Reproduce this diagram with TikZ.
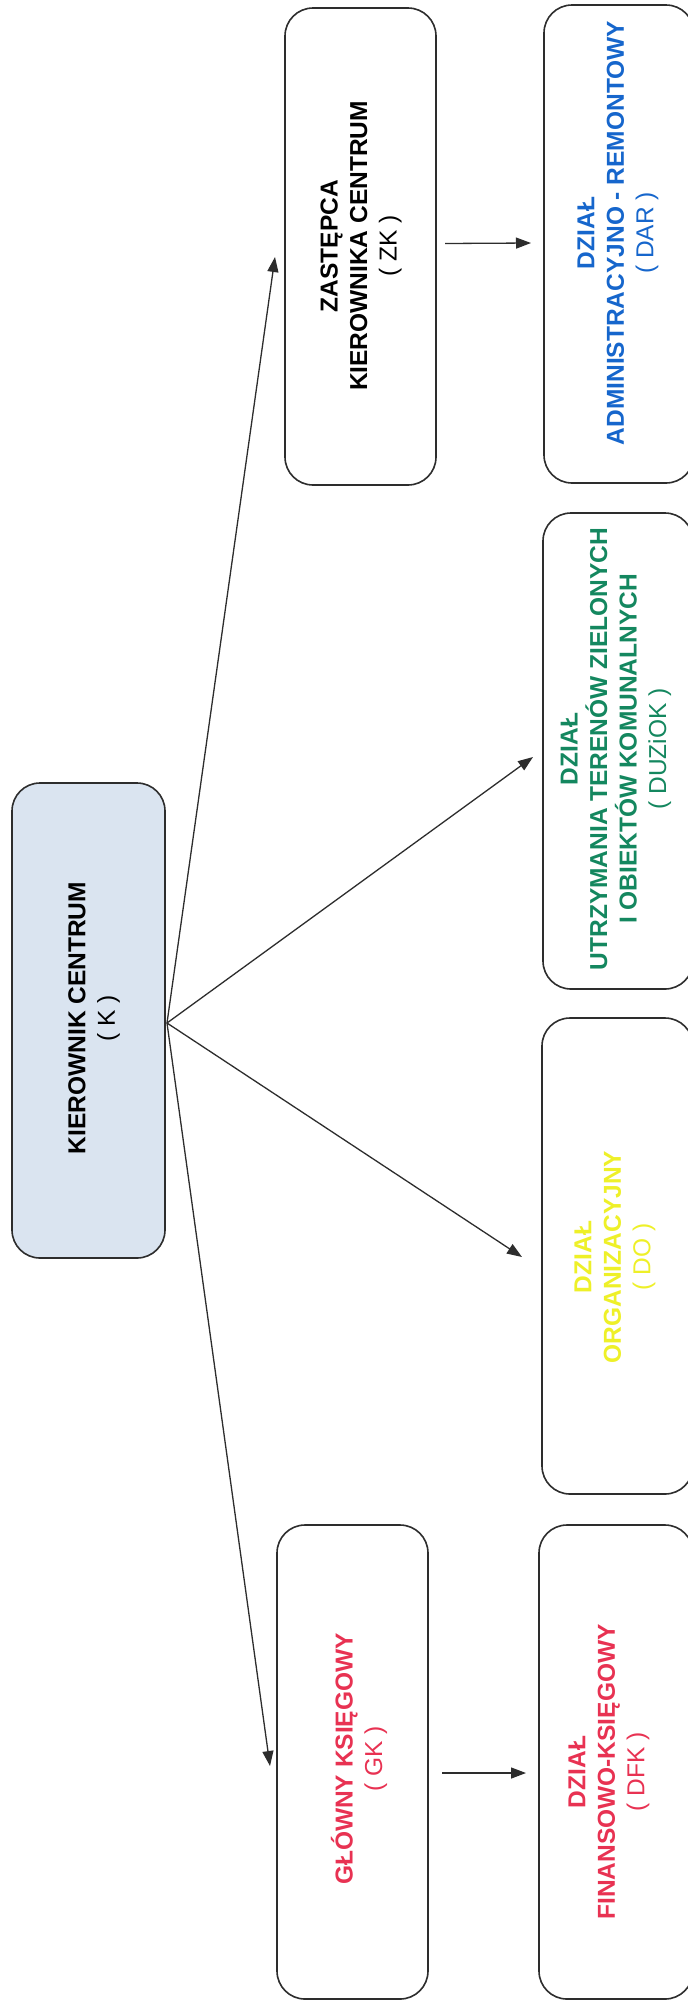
\documentclass[tikz,border=0pt]{standalone}
\usepackage{fontspec}
\setmainfont{Liberation Sans}
\usetikzlibrary{arrows.meta}
\definecolor{lineC}{RGB}{45,45,45}
\definecolor{kfill}{RGB}{218,228,240}
\definecolor{blueT}{RGB}{22,102,204}
\definecolor{greenT}{RGB}{20,135,95}
\definecolor{yellowT}{RGB}{238,240,40}
\definecolor{redT}{RGB}{232,50,82}
\tikzset{
  box/.style={draw=lineC, line width=1.6pt, rounded corners=28pt, rectangle,
    inner sep=0pt, outer sep=0pt, minimum width=#1},
  box/.default=151pt,
  lbl/.style={rotate=90, align=center, inner sep=0pt,
    font=\fontsize{24.5}{29.5}\selectfont\bfseries},
  arr/.style={draw=lineC, line width=1.3pt, -{Triangle[length=15pt,width=11pt]}},
}
\newcommand{\pline}[1]{{\mdseries #1}}
\begin{document}
\begin{tikzpicture}[x=1pt,y=-1pt]
\useasboundingbox (0,0) rectangle (688,2000);
\clip (0,0) rectangle (688,2000);
\fill[white] (0,0) rectangle (688,2000);
% boxes
\node[box=153pt, fill=kfill, minimum height=475pt] (K) at (88.5,1020.5) {};
\node[box=151pt, minimum height=477pt] (ZK) at (360.5,246.5) {};
\node[box=151pt, minimum height=474pt] (GK) at (352.5,1762) {};
\node[box=150pt, minimum height=478pt] (DAR) at (619,244) {};
\node[box=150pt, minimum height=476pt] (DUZ) at (618,751) {};
\node[box=151pt, minimum height=476pt] (DO) at (617.5,1256) {};
\node[box=154pt, minimum height=474pt] (DFK) at (616,1762) {};
% texts
\node[lbl, text=black] (tK) at (94,1018) {KIEROWNIK CENTRUM\\\pline{( K )}};
\node[lbl, text=black] (tZK) at (361,246) {ZASTĘPCA\\KIEROWNIKA CENTRUM\\\pline{( ZK )}};
\node[lbl, text=blueT] (tDAR) at (618,233) {DZIAŁ\\ADMINISTRACYJNO - REMONTOWY\\\pline{( DAR )}};
\node[lbl, text=greenT] (tDUZ) at (616,749) {DZIAŁ\\UTRZYMANIA TERENÓW ZIELONYCH\\I OBIEKTÓW KOMUNALNYCH\\\pline{( DUZiOK )}};
\node[lbl, text=yellowT] (tDO) at (615,1257) {DZIAŁ\\ORGANIZACYJNY\\\pline{( DO )}};
\node[lbl, text=redT] (tGK) at (359,1759) {GŁÓWNY KSIĘGOWY\\\pline{( GK )}};
\node[lbl, text=redT] (tDFK) at (609,1772) {DZIAŁ\\FINANSOWO-KSIĘGOWY\\\pline{( DFK )}};
% connectors
\coordinate (src) at ([xshift=2pt,yshift=-2.5pt]K.east);
\draw[arr] (src) -- ([xshift=-10pt,yshift=-10.5pt]ZK.west);
\draw[arr] (src) -- ([xshift=-10pt,yshift=-6pt]DUZ.west);
\draw[arr] (src) -- ([xshift=-20pt,yshift=-1pt]DO.west);
\draw[arr] (src) -- ([xshift=-7pt,yshift=-4pt]GK.west);
\draw[arr] ([xshift=9pt,yshift=3pt]ZK.east) -- ([xshift=-13pt,yshift=1pt]DAR.west);
\draw[arr] ([xshift=14pt,yshift=-11pt]GK.east) -- ([xshift=-13pt,yshift=-11pt]DFK.west);
\end{tikzpicture}
\end{document}
